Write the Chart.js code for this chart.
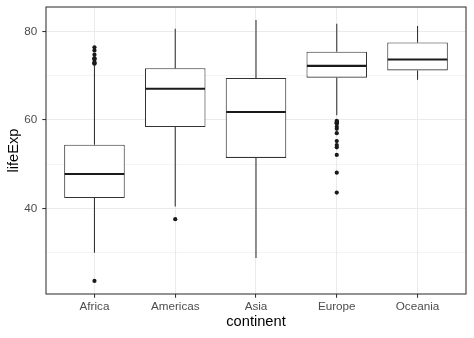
<!DOCTYPE html>
<html><head><meta charset="utf-8">
<script src="https://cdn.jsdelivr.net/npm/chart.js@4"></script>
<style>html,body{margin:0;padding:0;background:#fff}</style>
</head><body>
<canvas id="c" width="474" height="338"></canvas>
<script>
const categories = ['Africa', 'Americas', 'Asia', 'Europe', 'Oceania'];
const lowerWhisker = [30.0, 40.41, 28.80, 61.05, 69.12];
const q1 = [42.37, 58.41, 51.43, 69.57, 71.21];
const median = [47.79, 67.05, 61.79, 72.24, 73.67];
const q3 = [54.41, 71.70, 69.51, 75.45, 77.55];
const upperWhisker = [72.30, 80.65, 82.60, 81.76, 81.24];
const outliersAfrica = [23.60, 72.74, 72.80, 73.04, 73.62, 73.92, 73.95, 74.77, 75.74, 76.44];
const outliersAmericas = [37.58];
const outliersAsia = [];
const outliersEurope = [43.59, 48.08, 52.10, 53.82, 54.34, 55.23, 57.01, 58.00, 58.45, 59.16, 59.28, 59.51, 59.60, 59.82];
const outliersOceania = [];
const yTicks = [30, 40, 50, 60, 70, 80];

const outlierLists = [outliersAfrica, outliersAmericas, outliersAsia, outliersEurope, outliersOceania];
const boxData = categories.map((c, i) => ({x: i + 1, y: [q1[i], q3[i]]}));
const outlierData = [];
outlierLists.forEach((list, i) => list.forEach(v => outlierData.push({x: i + 1, y: v})));

const EDGE = '#333333';
const FONT = 'Liberation Sans, Arial, sans-serif';

const boxPlugin = {
  id: 'boxParts',
  afterDatasetsDraw(chart) {
    const xs = chart.scales.x, ys = chart.scales.y, ctx = chart.ctx;
    const meta = chart.getDatasetMeta(0);
    ctx.save();
    ctx.beginPath();
    ctx.rect(chart.chartArea.left, chart.chartArea.top, chart.chartArea.right - chart.chartArea.left, chart.chartArea.bottom - chart.chartArea.top);
    ctx.clip();
    categories.forEach((c, i) => {
      const x = xs.getPixelForValue(i + 1);
      ctx.strokeStyle = EDGE;
      ctx.lineWidth = 1.07;
      ctx.beginPath();
      ctx.moveTo(x, ys.getPixelForValue(upperWhisker[i]));
      ctx.lineTo(x, ys.getPixelForValue(q3[i]));
      ctx.moveTo(x, ys.getPixelForValue(q1[i]));
      ctx.lineTo(x, ys.getPixelForValue(lowerWhisker[i]));
      ctx.stroke();
      const hw = meta.data[i].width / 2;
      const ym = ys.getPixelForValue(median[i]);
      ctx.strokeStyle = '#1a1a1a';
      ctx.lineWidth = 2.1;
      ctx.beginPath();
      ctx.moveTo(x - hw + 0.5, ym);
      ctx.lineTo(x + hw - 0.5, ym);
      ctx.stroke();
    });
    ctx.restore();
  },
  afterDraw(chart) {
    const a = chart.chartArea, ctx = chart.ctx;
    ctx.save();
    ctx.strokeStyle = EDGE;
    ctx.lineWidth = 1.07;
    ctx.strokeRect(a.left, a.top, a.right - a.left, a.bottom - a.top);
    ctx.restore();
  }
};

new Chart(document.getElementById('c'), {
  type: 'bar',
  data: {
    datasets: [
      {
        type: 'bar',
        data: boxData,
        backgroundColor: '#ffffff',
        borderColor: EDGE,
        borderWidth: 1.07,
        borderSkipped: false,
        barPercentage: 0.75,
        categoryPercentage: 1.0,
        order: 2
      },
      {
        type: 'scatter',
        data: outlierData,
        backgroundColor: '#1a1a1a',
        borderColor: '#1a1a1a',
        borderWidth: 0,
        pointRadius: 2.1,
        pointHoverRadius: 2.1,
        order: 1
      }
    ]
  },
  options: {
    responsive: false,
    animation: false,
    devicePixelRatio: 1,
    layout: {padding: {top: 7, right: 8, bottom: 0, left: 0}},
    plugins: {legend: {display: false}, tooltip: {enabled: false}},
    scales: {
      x: {
        type: 'linear',
        min: 0.4,
        max: 5.6,
        offset: false,
        afterFit: s => { s.height = 44; s.paddingLeft = 0; s.paddingRight = 0; },
        border: {display: false},
        grid: {
          offset: false,
          color: '#EBEBEB',
          lineWidth: 1.07,
          tickColor: EDGE,
          tickWidth: 1.07,
          tickLength: 3.7
        },
        ticks: {
          stepSize: 1,
          includeBounds: false,
          autoSkip: false,
          maxRotation: 0,
          padding: 2,
          color: '#4D4D4D',
          font: {family: FONT, size: 11.7},
          callback: v => Number.isInteger(v) ? categories[v - 1] : ''
        },
        title: {
          display: true,
          text: 'continent',
          color: '#000000',
          font: {family: FONT, size: 14.67},
          padding: {top: 0, bottom: 7}
        }
      },
      y: {
        type: 'linear',
        min: 20.65,
        max: 85.55,
        beginAtZero: false,
        afterFit: s => { s.width = 46; s.paddingTop = 0; s.paddingBottom = 0; },
        afterBuildTicks: s => { s.ticks = yTicks.map(v => ({value: v})); },
        border: {display: false},
        grid: {
          color: '#EBEBEB',
          lineWidth: c => (c.tick && c.tick.value % 20 === 0) ? 1.07 : 0.53,
          tickColor: c => (c.tick && c.tick.value % 20 === 0) ? EDGE : 'rgba(0,0,0,0)',
          tickWidth: 1.07,
          tickLength: 3.7
        },
        ticks: {
          padding: 5,
          color: '#4D4D4D',
          font: {family: FONT, size: 11.7},
          callback: v => (v % 20 === 0) ? String(v) : ''
        },
        title: {
          display: true,
          text: 'lifeExp',
          color: '#000000',
          font: {family: FONT, size: 14.67},
          padding: {top: 5, bottom: 0}
        }
      }
    }
  },
  plugins: [boxPlugin]
});
</script>
</body></html>
